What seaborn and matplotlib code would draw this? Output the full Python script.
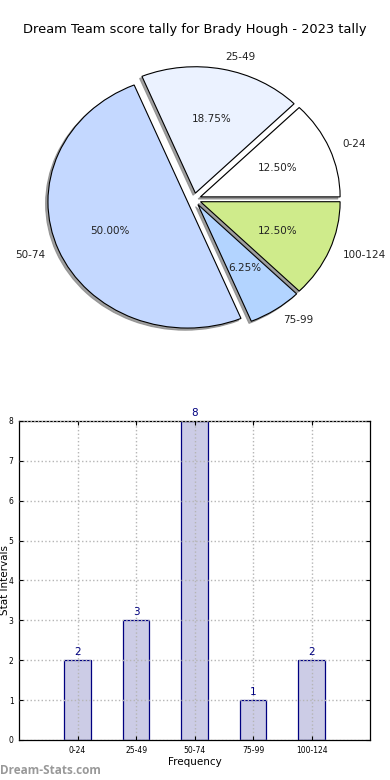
import numpy as np
import pandas as pd
import matplotlib
matplotlib.use("Agg")
import matplotlib.pyplot as plt
import seaborn as sns

intervals = ["0-24", "25-49", "50-74", "75-99", "100-124"]
counts = [2, 3, 8, 1, 2]
slice_colors = ["#ffffff", "#ebf2ff", "#c4d8ff", "#b3d4ff", "#cfeb8b"]
bar_color = "#ccccE6"
edge_color = "#000080"

title = "Dream Team score tally for Brady Hough - 2023 tally"

data = pd.DataFrame({"interval": intervals, "count": counts})

fig = plt.figure(figsize=(3.9, 7.8), dpi=100)

# pie on top (old style: not forced to a circle)
ax_pie = fig.add_axes([0.05, 0.542, 0.895, 0.405])
ax_pie.pie(data["count"], labels=data["interval"], colors=slice_colors,
           explode=[0.05] * len(counts), autopct="%1.2f%%",
           shadow={"ox": -0.012, "oy": -0.012, "color": "#888888", "alpha": 0.8},
           startangle=0, counterclock=True,
           wedgeprops={"edgecolor": "black", "linewidth": 0.8},
           textprops={"fontsize": 7.5, "color": "#222222"})
ax_pie.set_aspect("auto")
ax_pie.set_xlim(-1.25, 1.25)
ax_pie.set_ylim(-1.25, 1.25)

fig.text(0.5, 1 - 30 / 780, title, ha="center", va="center", fontsize=9.4)

# bar chart below
ax_bar = fig.add_axes([0.049, 0.0513, 0.9, 0.409])
sns.barplot(data=data, x="interval", y="count", color=bar_color, saturation=1,
            edgecolor=edge_color, linewidth=0.9, width=0.45, ax=ax_bar)
ax_bar.set_xlim(-1, 5)
ax_bar.set_ylim(0, 8)
ax_bar.set_yticks(range(0, 9))
ax_bar.grid(True, linestyle=":", color="#b5b5b5", linewidth=1)
ax_bar.set_axisbelow(False)
ax_bar.tick_params(direction="in", top=True, right=True, labelsize=5.5,
                   length=3, pad=4)
for sp in ax_bar.spines.values():
    sp.set_color("black")
    sp.set_linewidth(0.9)

for i, c in enumerate(counts):
    ax_bar.text(i, c + 0.08, str(c), ha="center", va="bottom",
                color=edge_color, fontsize=7.5)

ax_bar.set_xlabel("Frequency", fontsize=7.5, labelpad=2)
ax_bar.set_ylabel("Stat Intervals", fontsize=7.5)
ax_bar.yaxis.set_label_coords(-0.027, 0.5)

fig.text(0.0, 1 - 770 / 780, "Dream-Stats.com", ha="left", va="center",
         fontsize=8.5, color="#999999", fontweight="bold", family="Open Sans")

fig.savefig("out.png", dpi=100)
